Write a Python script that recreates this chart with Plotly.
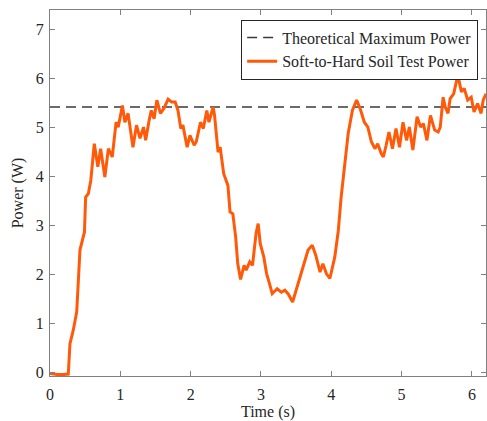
import plotly.graph_objects as go

time_s = [0, 0.1, 0.2, 0.26, 0.284, 0.33, 0.38, 0.426, 0.49, 0.507, 0.545, 0.58, 0.63, 0.68,
          0.72, 0.78, 0.83, 0.885, 0.94, 0.97, 1.03, 1.065, 1.11, 1.18, 1.23, 1.28, 1.33, 1.36,
          1.41, 1.44, 1.48, 1.52, 1.57, 1.62, 1.68, 1.73, 1.78, 1.82, 1.86, 1.89, 1.95, 1.99,
          2.05, 2.08, 2.14, 2.18, 2.23, 2.26, 2.32, 2.34, 2.39, 2.42, 2.47, 2.53, 2.56, 2.6,
          2.64, 2.67, 2.71, 2.76, 2.79, 2.84, 2.88, 2.9, 2.93, 2.96, 2.99, 3.04, 3.08, 3.12,
          3.16, 3.23, 3.29, 3.34, 3.39, 3.45, 3.5, 3.56, 3.62, 3.67, 3.73, 3.78, 3.84, 3.88,
          3.93, 3.98, 4.05, 4.1, 4.14, 4.19, 4.24, 4.3, 4.36, 4.41, 4.47, 4.52, 4.57, 4.62,
          4.66, 4.71, 4.74, 4.78, 4.82, 4.87, 4.92, 4.97, 5.02, 5.07, 5.11, 5.16, 5.22, 5.27,
          5.31, 5.36, 5.41, 5.47, 5.52, 5.55, 5.59, 5.62, 5.66, 5.69, 5.74, 5.8, 5.85, 5.89,
          5.94, 5.99, 6.03, 6.08, 6.13, 6.16, 6.2]
power_w = [-0.02, -0.04, -0.04, -0.03, 0.59, 0.86, 1.24, 2.5, 2.87, 3.58, 3.65, 3.92, 4.67, 4.2,
           4.57, 3.99, 4.57, 4.4, 5.11, 5.01, 5.45, 5.11, 5.29, 4.6, 5.05, 4.78, 5.01, 4.74,
           5.15, 5.35, 5.18, 5.56, 5.29, 5.39, 5.58, 5.52, 5.52, 5.35, 4.98, 5.05, 4.6, 4.84,
           4.64, 4.71, 5.11, 4.98, 5.35, 5.11, 5.42, 5.25, 4.5, 4.6, 4.06, 3.82, 3.28, 3.24,
           2.77, 2.22, 1.9, 2.19, 2.09, 2.26, 2.19, 2.43, 2.84, 3.04, 2.63, 2.36, 2.02, 1.82,
           1.61, 1.71, 1.64, 1.68, 1.6, 1.44, 1.68, 2.02, 2.29, 2.5, 2.6, 2.39, 2.05, 2.22,
           2.02, 1.92, 2.36, 2.9, 3.58, 4.27, 4.88, 5.35, 5.56, 5.39, 5.11, 5.01, 4.71, 4.57,
           4.67, 4.47, 4.4, 4.64, 4.91, 4.57, 4.98, 4.6, 5.11, 4.74, 5.01, 4.54, 5.22, 5.01,
           5.08, 4.74, 5.25, 4.95, 4.91, 5.01, 5.62, 5.42, 5.29, 5.59, 5.69, 6.07, 5.73, 5.8,
           5.56, 5.62, 5.32, 5.49, 5.29, 5.56, 5.69]
theoretical_max = 5.42
x_ticks = [0, 1, 2, 3, 4, 5, 6]
y_ticks = [0, 1, 2, 3, 4, 5, 6, 7]

FONT = "Liberation Serif, Times New Roman, serif"

fig = go.Figure()
fig.add_trace(go.Scatter(
    x=[0, 6.2], y=[theoretical_max, theoretical_max], mode="lines",
    name="Theoretical Maximum Power",
    line=dict(color="#3a3a3a", width=1.5, dash="10px,6px"),
))
fig.add_trace(go.Scatter(
    x=time_s, y=power_w, mode="lines",
    name="Soft-to-Hard Soil Test Power",
    line=dict(color="#ff5a0a", width=3),
))

axis_common = dict(
    showline=True, linecolor="#808080", linewidth=1, mirror="ticks",
    ticks="inside", ticklen=5, tickcolor="#808080", tickwidth=1,
    showgrid=False, zeroline=False, automargin=False,
    tickfont=dict(family=FONT, size=16, color="#262626"),
)
fig.update_xaxes(range=[0, 6.2], tickvals=x_ticks, ticklabelstandoff=4,
                 title=dict(text="Time (s)", font=dict(family=FONT, size=16, color="#262626"), standoff=6),
                 **axis_common)
fig.update_yaxes(range=[-0.07, 7.4], tickvals=y_ticks, ticklabelstandoff=2,
                 title=dict(text="Power (W)", font=dict(family=FONT, size=16, color="#262626"), standoff=8),
                 **axis_common)

fig.update_layout(
    width=487, height=421,
    margin=dict(l=50, r=1, t=10, b=45, autoexpand=False),
    plot_bgcolor="white", paper_bgcolor="white",
    showlegend=True,
    legend=dict(x=0.982, y=0.974, xanchor="right", yanchor="top",
                bordercolor="#262626", borderwidth=1, bgcolor="white",
                font=dict(family=FONT, size=16, color="#262626"),
                tracegroupgap=0, itemwidth=30),
)

fig.write_html("out.html", config={"displayModeBar": False},
               post_script="document.body.style.margin='0';document.body.style.overflow='hidden';")
